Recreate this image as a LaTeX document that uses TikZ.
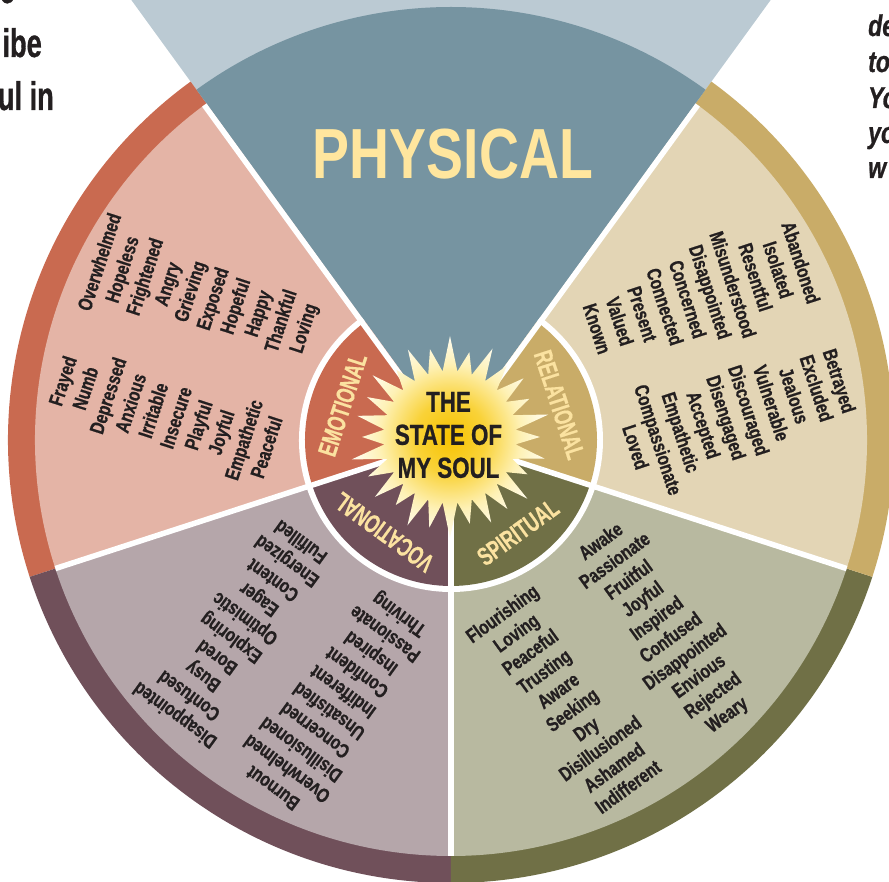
\documentclass[tikz,border=0pt]{standalone}
\usepackage{fontspec}
\setmainfont{Liberation Sans}
\newfontfamily\condb[FakeStretch=0.78]{Liberation Sans}
\newfontfamily\condh[FakeStretch=0.77,FakeBold=0.8]{Liberation Sans}
\newfontfamily\condl[FakeStretch=0.68,FakeBold=0.4]{Liberation Sans}
\newfontfamily\condt[FakeStretch=0.68,FakeBold=0.8]{Liberation Sans}
\definecolor{lightblue}{HTML}{BBCAD3}
\definecolor{physblue}{HTML}{7694A1}
\definecolor{emoband}{HTML}{C96A50}
\definecolor{emolight}{HTML}{E4B4A6}
\definecolor{relband}{HTML}{C9AC68}
\definecolor{rellight}{HTML}{E3D5B5}
\definecolor{spiband}{HTML}{707046}
\definecolor{spilight}{HTML}{B8B9A0}
\definecolor{vocband}{HTML}{70505A}
\definecolor{voclight}{HTML}{B5A6AA}
\definecolor{labelyellow}{HTML}{FBE2A0}
\definecolor{physyellow}{HTML}{FFE69E}
\definecolor{ink}{HTML}{231F20}
\definecolor{starA}{HTML}{F7C300}
\definecolor{starB}{HTML}{F9D238}
\definecolor{starC}{HTML}{FEF1B5}
\definecolor{starD}{HTML}{FFFDF2}
\pgfdeclareradialshading{starshade}{\pgfpoint{0bp}{0bp}}{color(0bp)=(starA); color(9bp)=(starB); color(18bp)=(starC); color(25bp)=(starD); color(50bp)=(starD)}
\begin{document}
\begin{tikzpicture}[x=1pt,y=1pt,
  word/.style={font=\condh\bfseries\fontsize{20}{23.8}\selectfont, text=ink, align=center, inner sep=0pt},
  ringlabel/.style={font=\condl\bfseries\fontsize{26}{26}\selectfont, text=labelyellow, inner sep=0pt},
  sidetext/.style={font=\condt\bfseries\fontsize{40}{40}\selectfont, text=ink, inner sep=0pt},
  sideital/.style={font=\condh\bfseries\itshape\fontsize{30}{30}\selectfont, text=ink, inner sep=0pt},
  sepline/.style={white, line width=5.5pt}]
\useasboundingbox (-451,-442) rectangle (438,440);
\clip (-451,-442) rectangle (438,440);

% physical light wedge beyond the wheel
\fill[lightblue] (0,0) -- (126:900) -- (54:900) -- cycle;

% outer sectors: band and light inner region
\foreach \a/\b/\band/\light in {126/198/emoband/emolight, 198/270/vocband/voclight, 270/342/spiband/spilight, 342/414/relband/rellight}{
  \fill[\band] (0,0) -- (\a:443) arc[start angle=\a, end angle=\b, radius=443] -- cycle;
  \fill[\light] (0,0) -- (\a:416) arc[start angle=\a, end angle=\b, radius=416] -- cycle;
}

% physical wedge
\fill[physblue] (0,0) -- (54:433) arc[start angle=54, end angle=126, radius=433] -- cycle;

% inner ring
\fill[white] (0,0) -- (126:152) arc[start angle=126, end angle=414, radius=152] -- cycle;
\foreach \a/\b/\band in {126/198/emoband, 198/270/vocband, 270/342/spiband, 342/414/relband}{
  \fill[\band] (0,0) -- (\a:146) arc[start angle=\a, end angle=\b, radius=146] -- cycle;
}

% white separators
\foreach \a in {198,270,342}{
  \draw[sepline] (0,0) -- (\a:416);
}
\draw[sepline, shift={(216:2.75)}] (0,0) -- (126:416);
\draw[sepline, shift={(-36:2.75)}] (0,0) -- (54:416);

% star
\shade[shading=starshade, shift={(-1,3)}] (90:101)
  \foreach \i/\r in {1/90,2/97,3/86,4/99,5/92,6/95,7/88,8/101,9/91,10/96,11/87,12/98,13/93,14/101,15/89,16/95,17/92,18/99,19/86,20/97,21/90,22/101,23/88,24/94,25/91,26/98,27/87}
  { -- ({90+(\i-0.5)*360/28}:66) -- ({90+\i*360/28}:\r) }
  -- ({90-0.5*360/28}:66) -- cycle;

% centre title
\node[font=\condh\bfseries\fontsize{29}{33}\selectfont, text=ink, align=center, inner sep=0pt] (title) at (-2.5,5) {THE\\STATE OF\\MY SOUL};

% physical label
\node[font=\condb\bfseries\fontsize{71}{71}\selectfont, text=physyellow, inner sep=0pt] (physical) at (2,286) {PHYSICAL};

% ring labels
\node[ringlabel, rotate=72] (lemo) at (162:114) {EMOTIONAL};
\node[ringlabel, rotate=-72] (lrel) at (18:114) {RELATIONAL};
\node[ringlabel, rotate=144] (lvoc) at (234:114) {VOCATIONAL};
\node[ringlabel, rotate=36] (lspi) at (306:114) {SPIRITUAL};

% emotional words
\node[word, rotate=72] (emoA) at (-248.1,144.4) {Overwhelmed\\Hopeless\\Frightened\\Angry\\Grieving\\Exposed\\Hopeful\\Happy\\Thankful\\Loving};
\node[word, rotate=72] (emoB) at (-286.6,26) {Frayed\\Numb\\Depressed\\Anxious\\Irritable\\Insecure\\Playful\\Joyful\\Empathetic\\Peaceful};

% relational words
\node[word, rotate=-72] (relA) at (248.1,144.4) {Abandoned\\Isolated\\Resentful\\Misunderstood\\Disappointed\\Concerned\\Connected\\Present\\Valued\\Known};
\node[word, rotate=-72] (relB) at (286.6,26) {Betrayed\\Excluded\\Jealous\\Vulnerable\\Discouraged\\Disengaged\\Accepted\\Empathetic\\Compassionate\\Loved};

% vocational words
\node[word, rotate=144] (vocA) at (-213.5,-189) {Disappointed\\Confused\\Busy\\Bored\\Exploring\\Optimistic\\Eager\\Content\\Energized\\Fulfilled};
\node[word, rotate=144] (vocB) at (-114,-260) {Burnout\\Overwhelmed\\Disillusioned\\Concerned\\Unsatisfied\\Indifferent\\Confident\\Inspired\\Passionate\\Thriving};

% spiritual words
\node[word, rotate=36] (spiA) at (114,-260) {Flourishing\\Loving\\Peaceful\\Trusting\\Aware\\Seeking\\Dry\\Disillusioned\\Ashamed\\Indifferent};
\node[word, rotate=36] (spiB) at (213.5,-189) {Awake\\Passionate\\Fruitful\\Joyful\\Inspired\\Confused\\Disappointed\\Envious\\Rejected\\Weary};

% side texts (cut by the page edge)
\node[sidetext, anchor=base east] (tlA) at (-436,437) {e};
\node[sidetext, anchor=base east] (tlB) at (-409,383) {ibe};
\node[sidetext, anchor=base east] (tlC) at (-397,330) {ul in};
\node[sideital, anchor=base west] (trA) at (417,404) {de};
\node[sideital, anchor=base west] (trB) at (417,368) {to};
\node[sideital, anchor=base west] (trC) at (417,332) {Yo};
\node[sideital, anchor=base west] (trD) at (417,297) {yo};
\node[sideital, anchor=base west] (trE) at (417,262) {w};
\end{tikzpicture}
\end{document}
